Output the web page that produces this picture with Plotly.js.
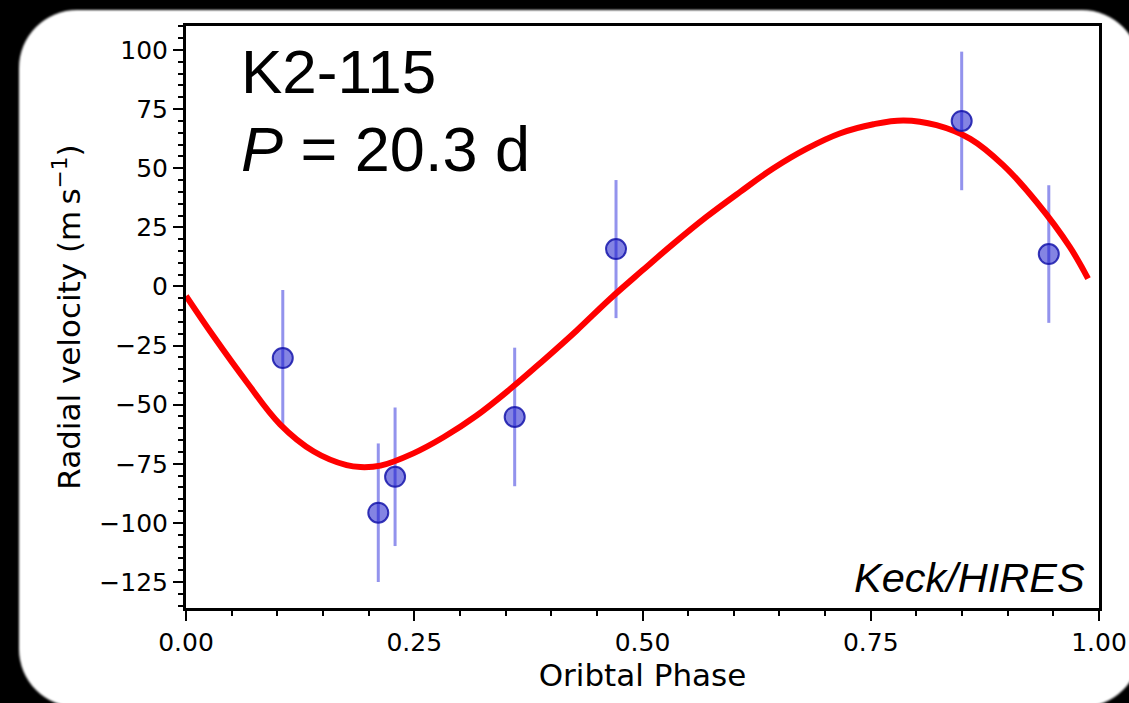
<!DOCTYPE html>
<html>
<head>
<meta charset="utf-8">
<script src="https://cdn.plot.ly/plotly-3.0.1.min.js"></script>
<style>
  html, body { margin: 0; padding: 0; background: #000; width: 1129px; height: 703px; overflow: hidden; }
  #panel { position: absolute; left: 19px; top: 10px; width: 1121px; height: 697px;
           background: #fff; border-radius: 58px; filter: blur(1.2px); }
  #chart { position: absolute; left: 0; top: 0; width: 1129px; height: 703px; }
</style>
</head>
<body>
<div id="panel"></div>
<div id="chart"></div>
<script>
// Phase-folded radial velocities (Keck/HIRES) with 1-sigma uncertainties
const phase = [0.106, 0.2106, 0.229, 0.360, 0.471, 0.8496, 0.945];
const rv    = [-30.3, -95.7, -80.5, -55.2, 15.8, 70.0, 13.7];
const rvErr = [28.8, 29.3, 29.3, 29.3, 29.2, 29.3, 29.1];

// Best-fit orbit model sampled along the phase
const modelPhase = [0.000, 0.030, 0.066, 0.103, 0.140, 0.176, 0.191, 0.213, 0.249, 0.282,
                    0.318, 0.355, 0.391, 0.428, 0.464, 0.500, 0.534, 0.570, 0.607, 0.643,
                    0.680, 0.716, 0.753, 0.786, 0.822, 0.859, 0.895, 0.932, 0.968, 0.988];
const modelRv    = [-4.0, -21.0, -40.2, -58.3, -69.8, -75.6, -76.4, -75.8, -70.6, -63.8,
                    -54.7, -43.4, -31.4, -18.6, -5.4, 6.8, 18.1, 29.4, 40.0, 49.9,
                    58.3, 64.7, 68.6, 70.2, 68.2, 62.4, 51.3, 35.5, 16.7, 3.3];

const xTicks = [0, 0.25, 0.5, 0.75, 1.0];
const yTicks = [-125, -100, -75, -50, -25, 0, 25, 50, 75, 100];

const errTrace = {
  x: phase, y: rv, type: 'scatter', mode: 'markers',
  marker: { size: 1, opacity: 0 },
  error_y: { type: 'data', array: rvErr, visible: true, color: 'rgba(40,40,220,0.5)', thickness: 3, width: 0 },
  hoverinfo: 'skip', showlegend: false
};
const modelTrace = {
  x: modelPhase, y: modelRv, type: 'scatter', mode: 'lines',
  line: { color: '#ff0000', width: 6, shape: 'spline', smoothing: 1.1 },
  showlegend: false
};
const pointTrace = {
  x: phase, y: rv, type: 'scatter', mode: 'markers',
  marker: { size: 20, color: 'rgba(10,10,200,0.5)', line: { color: 'rgba(20,20,170,0.85)', width: 2 } },
  showlegend: false
};

const tickFont = { family: 'DejaVu Sans', size: 25, color: '#000' };
const titleFont = { family: 'DejaVu Sans', size: 31, color: '#000' };

const layout = {
  width: 1129, height: 703,
  paper_bgcolor: 'rgba(0,0,0,0)', plot_bgcolor: '#fff',
  margin: { l: 186, r: 30, t: 26, b: 95 },
  xaxis: {
    range: [0, 1], tickvals: xTicks, tickformat: '.2f',
    ticks: 'outside', ticklen: 10, tickwidth: 2, tickcolor: '#000',
    minor: { dtick: 0.05, ticks: 'outside', ticklen: 5, tickwidth: 2, tickcolor: '#000' },
    showline: true, linewidth: 3, linecolor: '#000', mirror: true,
    showgrid: false, zeroline: false, tickfont: tickFont,
    title: { text: 'Oribtal Phase', font: titleFont, standoff: 1 }
  },
  yaxis: {
    range: [-136, 110.15], tickvals: yTicks,
    ticks: 'outside', ticklen: 10, tickwidth: 2, tickcolor: '#000',
    minor: { dtick: 5, ticks: 'outside', ticklen: 5, tickwidth: 2, tickcolor: '#000' },
    showline: true, linewidth: 3, linecolor: '#000', mirror: true,
    showgrid: false, zeroline: false, tickfont: tickFont,
    title: { text: 'Radial velocity (m\u2009s<sup>\u22121</sup>)', font: titleFont, standoff: 10 }
  },
  annotations: [
    { text: 'K2-115', xref: 'paper', yref: 'paper', x: 0.058, y: 0.985, xanchor: 'left', yanchor: 'top',
      showarrow: false, font: { family: 'Liberation Sans', size: 62, color: '#000' } },
    { text: '<i>P</i> = 20.3 d', xref: 'paper', yref: 'paper', x: 0.058, y: 0.852, xanchor: 'left', yanchor: 'top',
      showarrow: false, font: { family: 'Liberation Sans', size: 63, color: '#000' } },
    { text: '<i>Keck/HIRES</i>', xref: 'paper', yref: 'paper', x: 0.987, y: 0.008, xanchor: 'right', yanchor: 'bottom',
      showarrow: false, font: { family: 'Liberation Sans', size: 41.5, color: '#000' } }
  ]
};

Plotly.newPlot('chart', [errTrace, modelTrace, pointTrace], layout, { displayModeBar: false, staticPlot: true });
</script>
</body>
</html>
